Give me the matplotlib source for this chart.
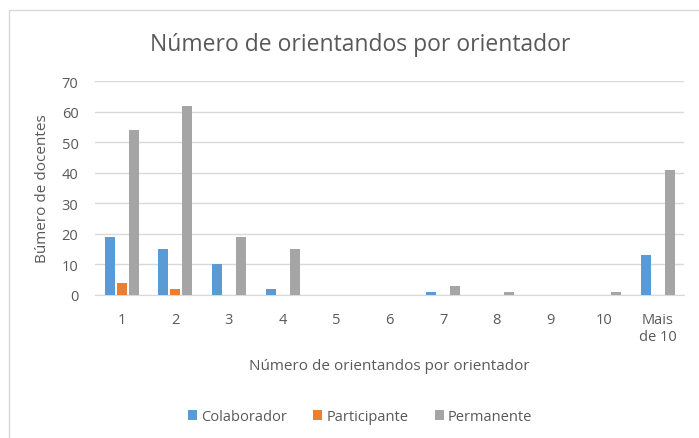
import matplotlib.pyplot as plt
import numpy as np
from matplotlib.patches import Rectangle

categories = ["1", "2", "3", "4", "5", "6", "7", "8", "9", "10", "Mais\nde 10"]
colaborador = [19, 15, 10, 2, 0, 0, 1, 0, 0, 0, 13]
participante = [4, 2, 0, 0, 0, 0, 0, 0, 0, 0, 0]
permanente = [54, 62, 19, 15, 0, 0, 3, 1, 0, 1, 41]
series_names = ["Colaborador", "Participante", "Permanente"]
colors = ["#5b9bd5", "#ed7d31", "#a5a5a5"]

plt.rcParams["font.family"] = ["Open Sans", "DejaVu Sans"]
txt = "#595959"

fig = plt.figure(figsize=(6.99, 4.39), dpi=100)
# chart border (right/bottom run off the picture)
fig.patches.append(Rectangle((0.013, -0.05), 1.0, 1.025, transform=fig.transFigure,
                             fill=False, edgecolor="#d9d9d9", linewidth=1))

ax = fig.add_axes([0.136, 0.326, 0.843, 0.487])
x = np.arange(len(categories))
w = 0.187
step = 0.224
for i, (vals, name) in enumerate(zip([colaborador, participante, permanente], series_names)):
    ax.bar(x + (i - 1) * step, vals, width=w, color=colors[i], label=name, zorder=3)

ax.set_xlim(-0.5, len(categories) - 0.5)
ax.set_ylim(0, 70)
ax.set_yticks(range(0, 71, 10))
ax.set_xticks(x)
ax.set_xticklabels(categories)
ax.grid(axis="y", color="#d9d9d9", linewidth=1, zorder=0)
for s in ["top", "right", "left"]:
    ax.spines[s].set_visible(False)
ax.spines["bottom"].set_color("#d9d9d9")
ax.tick_params(axis="y", length=0, colors=txt, labelsize=10.5, pad=12)
ax.tick_params(axis="x", length=0, colors=txt, labelsize=10.5, pad=12)

ax.set_ylabel("Búmero de docentes", color=txt, fontsize=11, labelpad=8)
ax.set_xlabel("Número de orientandos por orientador", color=txt, fontsize=11, labelpad=10)
fig.text(0.515, 0.897, "Número de orientandos por orientador", ha="center", va="center",
         color=txt, fontsize=16.5)

ax.legend(loc="center", bbox_to_anchor=(0.45, -0.57), ncol=3, frameon=False,
          fontsize=10.5, handlelength=0.6, handleheight=0.6, columnspacing=1.8,
          handletextpad=0.3, labelcolor=txt)

plt.savefig("out.png", dpi=100)
